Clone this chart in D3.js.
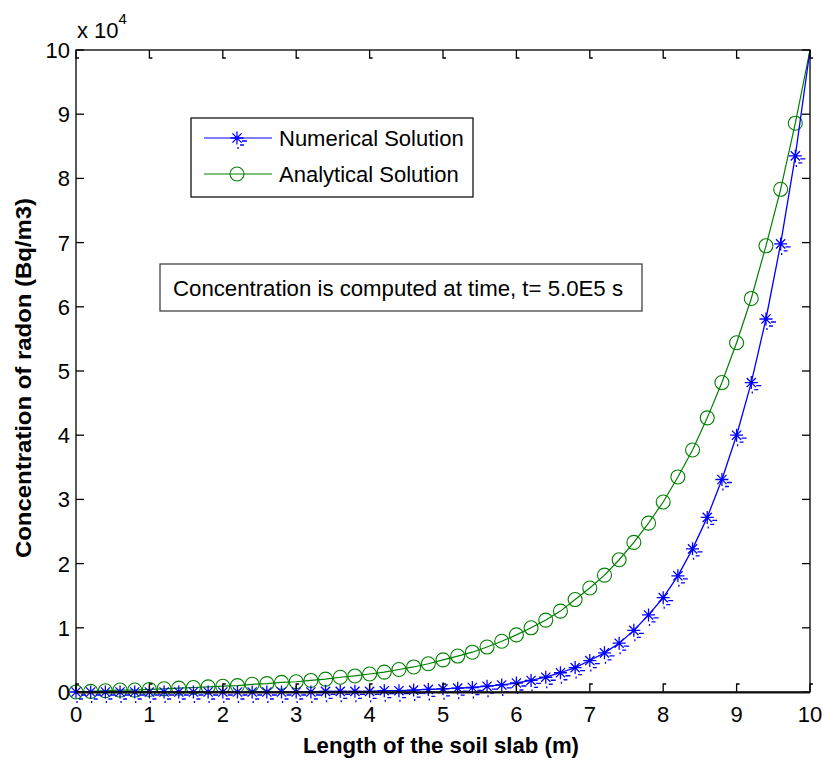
<!DOCTYPE html>
<html>
<head>
<meta charset="utf-8">
<script src="https://cdn.jsdelivr.net/npm/d3@7"></script>
<style>
  html, body { margin: 0; padding: 0; background: #fff; }
  svg { display: block; }
  text { font-family: "Liberation Sans", Arial, sans-serif; fill: #000; }
</style>
</head>
<body>
<svg id="chart" width="822" height="760"></svg>
<script>
// Distance along the soil slab (m)
const depth = [0, 0.2, 0.4, 0.6, 0.8, 1.0, 1.2, 1.4, 1.6, 1.8,
               2.0, 2.2, 2.4, 2.6, 2.8, 3.0, 3.2, 3.4, 3.6, 3.8,
               4.0, 4.2, 4.4, 4.6, 4.8, 5.0, 5.2, 5.4, 5.6, 5.8,
               6.0, 6.2, 6.4, 6.6, 6.8, 7.0, 7.2, 7.4, 7.6, 7.8,
               8.0, 8.2, 8.4, 8.6, 8.8, 9.0, 9.2, 9.4, 9.6, 9.8, 10.0];

// Radon concentration, in units of 10^4 Bq/m3
const numerical = [0, 0, 0, 0, 0, 0, 0, 0, 0, 0,
                   0, 0, 0, 0, 0, 0, 0, 0.01, 0.01, 0.01,
                   0.01, 0.02, 0.02, 0.03, 0.04, 0.05, 0.06, 0.07, 0.09, 0.11,
                   0.14, 0.18, 0.23, 0.30, 0.38, 0.49, 0.61, 0.76, 0.96, 1.20,
                   1.47, 1.81, 2.23, 2.72, 3.31, 4.00, 4.82, 5.81, 6.98, 8.35, 10.0];

const analytical = [0, 0.01, 0.02, 0.03, 0.03, 0.04, 0.05, 0.06, 0.07, 0.08,
                    0.09, 0.10, 0.12, 0.13, 0.15, 0.16, 0.18, 0.20, 0.23, 0.25,
                    0.28, 0.31, 0.35, 0.39, 0.44, 0.50, 0.56, 0.62, 0.70, 0.79,
                    0.89, 1.00, 1.12, 1.26, 1.44, 1.62, 1.82, 2.06, 2.33, 2.63,
                    2.96, 3.35, 3.77, 4.27, 4.82, 5.44, 6.13, 6.95, 7.83, 8.86, 10.0];

const xTicks = [0, 1, 2, 3, 4, 5, 6, 7, 8, 9, 10];
const yTicks = [0, 1, 2, 3, 4, 5, 6, 7, 8, 9, 10];

const seriesNames = ["Numerical Solution", "Analytical Solution"];
const seriesColors = ["#0000ff", "#008000"];
const noteText = "Concentration is computed at time, t= 5.0E5 s";
const xTitle = "Length of the soil slab (m)";
const yTitle = "Concentration of radon (Bq/m3)";

const svg = d3.select("#chart");
const plotLeft = 76, plotRight = 810, plotTop = 50, plotBottom = 692;

const x = d3.scaleLinear().domain([0, 10]).range([plotLeft, plotRight]);
const y = d3.scaleLinear().domain([0, 10]).range([plotBottom, plotTop]);

// Asterisk marker (MATLAB '*') with its little rendering ticks
function starPath(cx, cy) {
  const r = 6.5, d = 4.6;
  return `M${cx - r},${cy}H${cx + r}M${cx},${cy - r}V${cy + r}` +
         `M${cx - d},${cy - d}L${cx + d},${cy + d}M${cx - d},${cy + d}L${cx + d},${cy - d}` +
         `M${cx + 5},${cy + 3}h5M${cx + 3},${cy + 7}h4M${cx + 1},${cy + 9}v2`;
}

const pts = (vals) => depth.map((d, i) => [d, vals[i]]);
// markers stop short of the far corner of the box
const markerPts = (vals) => pts(vals).filter(d => d[0] < 10);
const line = d3.line().x(d => x(d[0])).y(d => y(d[1]));

const plot = svg.append("g");

// Analytical curve with circle markers
plot.append("path").attr("d", line(pts(analytical)))
  .attr("fill", "none").attr("stroke", seriesColors[1]).attr("stroke-width", 1.2);
plot.selectAll("circle.an").data(markerPts(analytical)).join("circle")
  .attr("class", "an")
  .attr("cx", d => x(d[0])).attr("cy", d => y(d[1])).attr("r", 7)
  .attr("fill", "none").attr("stroke", seriesColors[1]).attr("stroke-width", 1.1);

// Numerical curve with asterisk markers
plot.append("path").attr("d", line(pts(numerical)))
  .attr("fill", "none").attr("stroke", seriesColors[0]).attr("stroke-width", 1.3);
plot.selectAll("path.num").data(markerPts(numerical)).join("path")
  .attr("class", "num")
  .attr("d", d => starPath(x(d[0]), y(d[1])))
  .attr("fill", "none").attr("stroke", seriesColors[0]).attr("stroke-width", 1.3);

// Axes box and inward ticks on all four sides
const axes = svg.append("g");
const tl = 8;
axes.selectAll("path.tb").data(xTicks).join("path")
  .attr("class", "tb")
  .attr("d", t => `M${x(t)},${plotBottom}v${-tl}h3`)
  .attr("stroke", "#000").attr("fill", "none").attr("stroke-width", 1.3);
axes.selectAll("path.tt").data(xTicks).join("path")
  .attr("class", "tt")
  .attr("d", t => `M${x(t)},${plotTop}v${tl}h3`)
  .attr("stroke", "#000").attr("fill", "none").attr("stroke-width", 1.3);
axes.selectAll("path.tl").data(yTicks).join("path")
  .attr("class", "tl")
  .attr("d", t => `M${plotLeft},${y(t)}h${tl}`)
  .attr("stroke", "#000").attr("fill", "none").attr("stroke-width", 1.3);
axes.selectAll("path.tr").data(yTicks).join("path")
  .attr("class", "tr")
  .attr("d", t => `M${plotRight},${y(t)}h${-tl}`)
  .attr("stroke", "#000").attr("fill", "none").attr("stroke-width", 1.3);
axes.append("rect")
  .attr("x", plotLeft).attr("y", plotTop)
  .attr("width", plotRight - plotLeft).attr("height", plotBottom - plotTop)
  .attr("fill", "none").attr("stroke", "#000").attr("stroke-width", 1.3);
axes.append("line")
  .attr("x1", plotLeft).attr("x2", plotRight).attr("y1", plotBottom + 0.5).attr("y2", plotBottom + 0.5)
  .attr("stroke", "#111").attr("stroke-width", 2);

// Tick labels
svg.append("g").selectAll("text").data(xTicks).join("text")
  .attr("x", t => x(t)).attr("y", 722)
  .attr("text-anchor", "middle").attr("font-size", 22)
  .text(t => t);
svg.append("g").selectAll("text").data(yTicks).join("text")
  .attr("x", 70).attr("y", t => y(t) + 8)
  .attr("text-anchor", "end").attr("font-size", 22)
  .text(t => t);

// Exponent label
const ex = svg.append("text").attr("x", 77).attr("y", 38).attr("font-size", 22);
ex.append("tspan").text("x 10");
ex.append("tspan").attr("dy", -14).attr("font-size", 15).text("4");

// Axis titles
svg.append("text")
  .attr("x", 441).attr("y", 753).attr("text-anchor", "middle")
  .attr("font-size", 22).attr("font-weight", "bold")
  .attr("textLength", 276).attr("lengthAdjust", "spacingAndGlyphs")
  .text(xTitle);
svg.append("text")
  .attr("transform", "translate(31,378) rotate(-90)")
  .attr("text-anchor", "middle")
  .attr("font-size", 22).attr("font-weight", "bold")
  .attr("textLength", 360).attr("lengthAdjust", "spacingAndGlyphs")
  .text(yTitle);

// Legend
const lg = svg.append("g");
lg.append("rect").attr("x", 191).attr("y", 118).attr("width", 282).attr("height", 79)
  .attr("fill", "#fff").attr("stroke", "#000").attr("stroke-width", 1.2);
const rows = [138, 174];
rows.forEach((ry, i) => {
  lg.append("line").attr("x1", 204).attr("x2", 272).attr("y1", ry).attr("y2", ry)
    .attr("stroke", seriesColors[i]).attr("stroke-width", 1.2);
  if (i === 0) {
    lg.append("path").attr("d", starPath(237, ry)).attr("fill", "none")
      .attr("stroke", seriesColors[0]).attr("stroke-width", 1.3);
  } else {
    lg.append("circle").attr("cx", 237).attr("cy", ry).attr("r", 7)
      .attr("fill", "none").attr("stroke", seriesColors[1]).attr("stroke-width", 1.1);
  }
  lg.append("text").attr("x", 279).attr("y", ry + 8).attr("font-size", 22)
    .text(seriesNames[i]);
});

// Annotation box
const nb = svg.append("g");
nb.append("rect").attr("x", 160).attr("y", 264).attr("width", 482).attr("height", 47)
  .attr("fill", "#fff").attr("stroke", "#333").attr("stroke-width", 1.2);
nb.append("text").attr("x", 173).attr("y", 296).attr("font-size", 22)
  .attr("textLength", 450).attr("lengthAdjust", "spacingAndGlyphs")
  .text(noteText);
</script>
</body>
</html>
